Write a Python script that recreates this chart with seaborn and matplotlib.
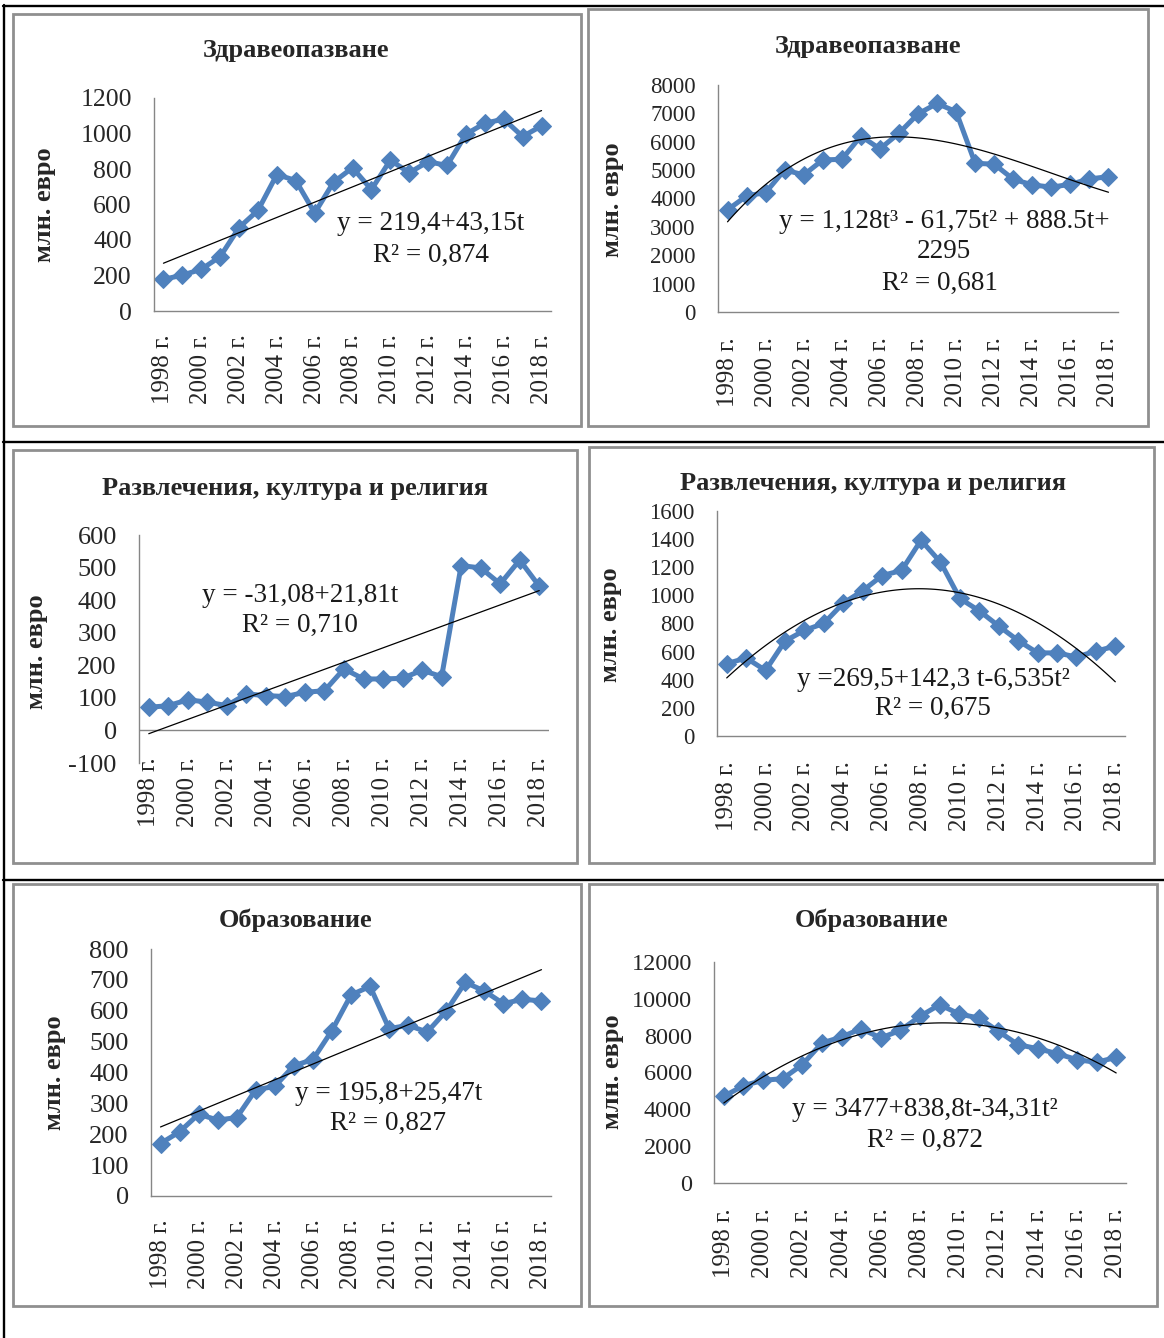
import numpy as np
import seaborn as sns
import matplotlib.pyplot as plt
from matplotlib.patches import Rectangle
from matplotlib.lines import Line2D

sns.set_style("white")
plt.rcParams['font.family'] = ['Liberation Serif', 'DejaVu Serif']
plt.rcParams['axes.unicode_minus'] = False

# --- data (млн. евро), 1998..2018 ---
years = list(range(1998, 2019))
year_labels = [f"{y} г." for y in years]

health_a = [178, 202, 235, 306, 470, 567, 769, 735, 552, 726, 807, 684, 850,
            779, 841, 820, 996, 1058, 1081, 983, 1043]
health_b = [3600, 4090, 4210, 5010, 4830, 5360, 5380, 6200, 5750, 6300, 6980,
            7350, 7060, 5240, 5210, 4680, 4480, 4400, 4500, 4690, 4770]
culture_a = [71, 76, 94, 87, 76, 112, 107, 104, 117, 122, 189, 158, 158, 160,
             185, 165, 506, 499, 450, 523, 443]
culture_b = [514, 555, 466, 675, 751, 801, 945, 1033, 1141, 1177, 1392, 1237,
             978, 890, 782, 679, 591, 591, 562, 603, 639]
edu_a = [170, 208, 265, 246, 254, 344, 355, 422, 442, 536, 651, 679, 542, 553,
         531, 599, 692, 664, 623, 637, 632]
edu_b = [4706, 5285, 5575, 5665, 6425, 7602, 7928, 8380, 7873, 8290, 9050,
         9683, 9176, 8959, 8235, 7511, 7294, 7023, 6697, 6552, 6824]

t_title_health = "Здравеопазване"
t_title_culture = "Развлечения, култура и религия"
t_title_edu = "Образование"
ylab = "млн. евро"

W, H = 1164, 1338
BLUE = '#4F81BD'
GRAY = '#868686'


def fx(x):
    return x / W


def fy(y):
    return 1 - y / H


panels = [
    dict(data=health_a, title=t_title_health, frame=(13, 14, 581, 426),
         box=(154, 98, 551, 311), ylim=(0, 1200), step=200, order=1,
         tpos=(296, 50), lpos=(45, 205), yfs=18.5, xpad=17,
         eq=[("y = 219,4+43,15t", (431, 223)), ("R² = 0,874", (431, 255))]),
    dict(data=health_b, title=t_title_health, frame=(588, 9, 1148, 426),
         box=(718, 85, 1118, 312), ylim=(0, 8000), step=1000, order=3,
         tpos=(868, 47), lpos=(613, 200), yfs=16.5, xpad=18,
         eq=[("y = 1,128t³ - 61,75t² + 888.5t+", (944, 222)),
             ("2295", (944, 252)), ("R² = 0,681", (940, 283))]),
    dict(data=culture_a, title=t_title_culture, frame=(13, 450, 577, 863),
         box=(139, 535, 549, 763), ylim=(-100, 600), step=100, order=1,
         tpos=(295, 488), lpos=(36, 652), yfs=19, xpad=-4, zero=True,
         eq=[("y = -31,08+21,81t", (300, 595)), ("R² = 0,710", (300, 625))]),
    dict(data=culture_b, title=t_title_culture, frame=(589, 447, 1154, 863),
         box=(717, 511, 1125, 736), ylim=(0, 1600), step=200, order=2,
         tpos=(873, 483), lpos=(611, 625), yfs=16.5, xpad=18,
         eq=[("y =269,5+142,3 t-6,535t²", (933, 680)), ("R² = 0,675", (933, 708))]),
    dict(data=edu_a, title=t_title_edu, frame=(13, 884, 581, 1306),
         box=(151, 949, 551, 1196), ylim=(0, 800), step=100, order=1,
         tpos=(296, 920), lpos=(54, 1073), yfs=19, xpad=17,
         eq=[("y = 195,8+25,47t", (389, 1093)), ("R² = 0,827", (388, 1123))]),
    dict(data=edu_b, title=t_title_edu, frame=(589, 884, 1157, 1306),
         box=(714, 962, 1126, 1183), ylim=(0, 12000), step=2000, order=2,
         tpos=(872, 920), lpos=(613, 1072), yfs=17.5, xpad=18,
         eq=[("y = 3477+838,8t-34,31t²", (925, 1110)), ("R² = 0,872", (925, 1140))]),
]

fig = plt.figure(figsize=(W / 100, H / 100), dpi=100)

# table borders
for y in (5.7, 442, 879.5):
    fig.add_artist(Line2D([fx(3), fx(W)], [fy(y), fy(y)], color='black', lw=1.7))
fig.add_artist(Line2D([fx(4), fx(4)], [fy(4.7), fy(H)], color='black', lw=1.7))

t = np.arange(1, 22)

for p in panels:
    x0, y0, x1, y1 = p['frame']
    fig.add_artist(Rectangle((fx(x0), fy(y1)), fx(x1 - x0), (y1 - y0) / H,
                             transform=fig.transFigure, fill=False,
                             ec='#8f8f8f', lw=2))
    bx0, by0, bx1, by1 = p['box']
    ax = fig.add_axes([fx(bx0), fy(by1), fx(bx1 - bx0), (by1 - by0) / H])
    ax.set_facecolor('none')

    sns.lineplot(x=t, y=p['data'], ax=ax, color=BLUE, lw=3.6, marker='D',
                 markersize=9.5, markeredgecolor=BLUE, zorder=2)
    sns.regplot(x=t, y=np.array(p['data']), ax=ax, order=p['order'],
                scatter=False, ci=None, truncate=True,
                line_kws=dict(color='black', lw=0.9, zorder=3))

    ax.set_xlim(0.5, 21.5)
    ax.set_ylim(*p['ylim'])
    ax.set_yticks(np.arange(p['ylim'][0], p['ylim'][1] + 1, p['step']))
    ax.set_xticks(t[::2])
    ax.set_xticklabels(year_labels[::2], rotation=90)
    ax.tick_params(axis='y', length=0, pad=16, labelsize=p['yfs'])
    ax.tick_params(axis='x', length=0, pad=p['xpad'], labelsize=18)
    ax.set_xlabel('')
    ax.set_ylabel('')
    for s in ('top', 'right'):
        ax.spines[s].set_visible(False)
    for s in ('left', 'bottom'):
        ax.spines[s].set_color(GRAY)
        ax.spines[s].set_linewidth(1)
    if p.get('zero'):
        ax.spines['bottom'].set_visible(False)
        ax.axhline(0, color=GRAY, lw=1, zorder=1)

    fig.text(fx(p['tpos'][0]), fy(p['tpos'][1]), p['title'], ha='center',
             va='center', fontsize=19, fontweight='bold')
    fig.text(fx(p['lpos'][0]), fy(p['lpos'][1]), ylab, ha='center',
             va='center', rotation=90, fontsize=19, fontweight='bold')
    for txt, (ex, ey) in p['eq']:
        fig.text(fx(ex), fy(ey), txt, ha='center', va='center', fontsize=19.5,
                 color='#1a1a1a')

fig.savefig('out.png', dpi=100)
